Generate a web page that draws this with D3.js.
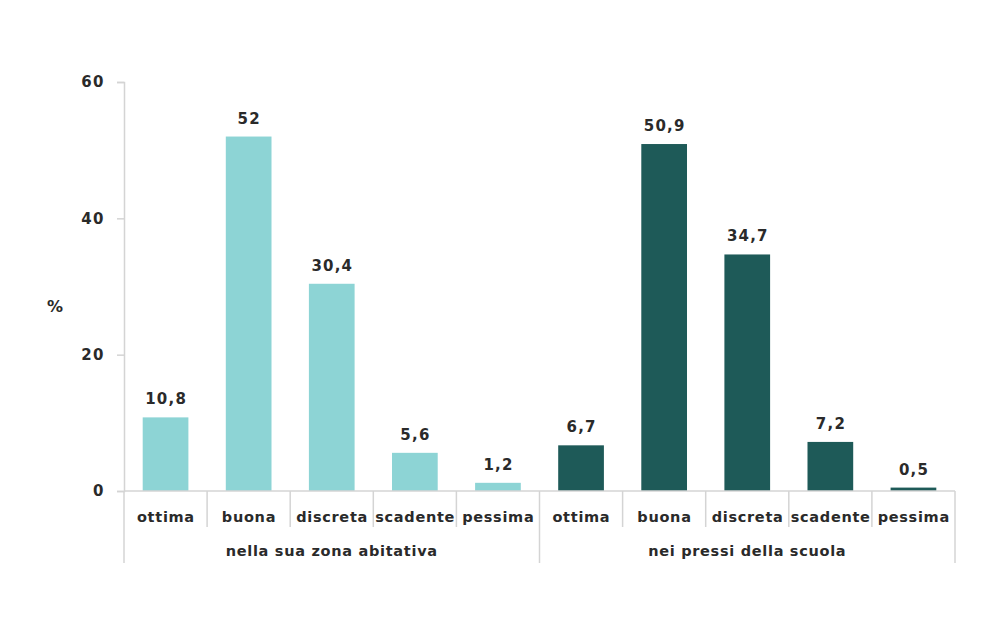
<!DOCTYPE html>
<html>
<head>
<meta charset="utf-8">
<script src="https://cdn.jsdelivr.net/npm/d3@7"></script>
<style>
  html, body { margin: 0; padding: 0; background: #ffffff; }
  svg { display: block; }
  text { font-family: "DejaVu Sans", Verdana, sans-serif; font-weight: bold; fill: #2a2a2a; }
</style>
</head>
<body>
<svg id="chart" width="987" height="617"></svg>
<script>
// Ratings of the area, two locations
const groups = ["nella sua zona abitativa", "nei pressi della scuola"];
const categories = ["ottima", "buona", "discreta", "scadente", "pessima"];
const valuesZona = [10.8, 52, 30.4, 5.6, 1.2];
const valuesScuola = [6.7, 50.9, 34.7, 7.2, 0.5];
const yTicks = [0, 20, 40, 60];
const groupColors = ["#8dd4d5", "#1e5a58"];

const seriesByGroup = [valuesZona, valuesScuola];

const svg = d3.select("#chart");
const plotLeft = 124, plotRight = 955, plotTop = 82, plotBottom = 491;

const x0 = d3.scaleBand().domain(groups).range([plotLeft, plotRight]).padding(0);
const x1 = d3.scaleBand().domain(categories).range([0, x0.bandwidth()])
  .paddingInner(0.45).paddingOuter(0.225);
const xCat = d3.scaleBand().domain(categories).range([0, x0.bandwidth()]).padding(0);
const y = d3.scaleLinear().domain([0, 60]).range([plotBottom, plotTop]);

const fmt = v => String(v).replace(".", ",");
const axisColor = "#d4d4d4";

// y axis
const yAxis = svg.append("g").attr("transform", `translate(${plotLeft},0)`)
  .call(d3.axisLeft(y).tickValues(yTicks).tickSize(7).tickPadding(12));
yAxis.select(".domain").attr("stroke", axisColor).attr("stroke-width", 1.5);
yAxis.selectAll(".tick line").attr("stroke", axisColor).attr("stroke-width", 1.5);
yAxis.selectAll(".tick text")
  .style("font-family", "'DejaVu Sans', Verdana, sans-serif")
  .style("font-weight", "bold").style("font-size", "15px").style("letter-spacing", "1.5px")
  .attr("fill", "#2a2a2a");

svg.append("text").attr("x", 55).attr("y", 312).attr("text-anchor", "middle")
  .style("font-size", "16px").text("%");

// bars and value labels
groups.forEach((g, gi) => {
  const gx = x0(g);
  const data = categories.map((c, i) => ({ c, v: seriesByGroup[gi][i] }));
  const grp = svg.append("g").attr("transform", `translate(${gx},0)`);
  grp.selectAll("rect").data(data).join("rect")
    .attr("x", d => x1(d.c)).attr("width", x1.bandwidth())
    .attr("y", d => y(d.v)).attr("height", d => y(0) - y(d.v))
    .attr("fill", groupColors[gi]);
  grp.selectAll("text.val").data(data).join("text").attr("class", "val")
    .attr("x", d => x1(d.c) + x1.bandwidth() / 2 + 0.6).attr("y", d => y(d.v) - 13)
    .attr("text-anchor", "middle").style("font-size", "15px").style("letter-spacing", "1.2px")
    .text(d => fmt(d.v));
  // category labels
  grp.selectAll("text.cat").data(categories).join("text").attr("class", "cat")
    .attr("x", c => xCat(c) + xCat.bandwidth() / 2 + 0.35).attr("y", 522)
    .attr("text-anchor", "middle").style("font-size", "14.5px").style("letter-spacing", "0.7px")
    .text(c => c);
  // separators between categories
  grp.selectAll("line.sep").data(categories.slice(1)).join("line").attr("class", "sep")
    .attr("x1", c => xCat(c)).attr("x2", c => xCat(c))
    .attr("y1", plotBottom).attr("y2", 527)
    .attr("stroke", axisColor).attr("stroke-width", 1.5);
  // group label
  svg.append("text").attr("x", gx + x0.bandwidth() / 2).attr("y", 556)
    .attr("text-anchor", "middle").style("font-size", "14.5px").style("letter-spacing", "0.7px")
    .text(g);
});

// baseline and group boundaries
svg.append("line").attr("x1", plotLeft).attr("x2", plotRight).attr("y1", plotBottom).attr("y2", plotBottom)
  .attr("stroke", axisColor).attr("stroke-width", 1.5);
const bounds = groups.map(g => x0(g)).concat([x0(groups[groups.length - 1]) + x0.bandwidth()]);
svg.selectAll("line.grp").data(bounds).join("line").attr("class", "grp")
  .attr("x1", d => d).attr("x2", d => d).attr("y1", plotBottom).attr("y2", 563)
  .attr("stroke", axisColor).attr("stroke-width", 1.5);
</script>
</body>
</html>
